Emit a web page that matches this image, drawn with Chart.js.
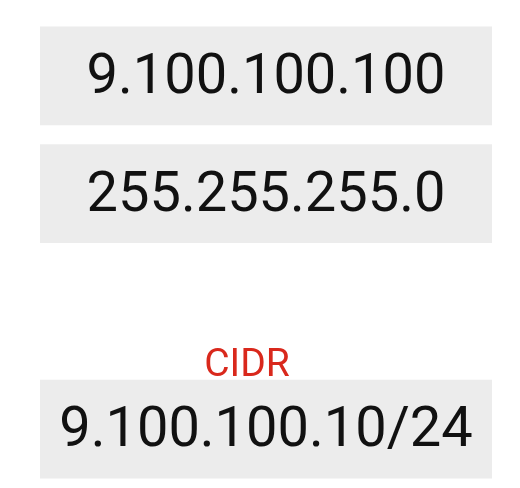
<!DOCTYPE html>
<html><head><meta charset="utf-8">
<script src="https://cdn.jsdelivr.net/npm/chart.js@4"></script>
<style>html,body{margin:0;padding:0;background:#fff}#w{width:520px;height:488px}</style>
</head><body><div id="w"><canvas id="c"></canvas></div>
<script>
const categories = ["9.100.100.100", "255.255.255.0", "", "9.100.100.10/24"];
const values = [1, 1, null, 1];
const captions = ["", "", "CIDR", ""];
const textPlugin = {
  id: 'txt',
  afterDatasetsDraw(chart) {
    const ctx = chart.ctx, meta = chart.getDatasetMeta(0), ys = chart.scales.y;
    ctx.save();
    ctx.textAlign = 'center'; ctx.textBaseline = 'middle';
    categories.forEach((c, i) => {
      const y = ys.getPixelForValue(i);
      if (values[i] != null) {
        const bar = meta.data[i];
        ctx.fillStyle = '#111';
        ctx.font = '56px Roboto';
        ctx.fillText(c, (bar.base + bar.x) / 2, y + 3);
      }
      if (captions[i]) {
        ctx.fillStyle = '#d9281c';
        ctx.font = '39px Roboto';
        ctx.fillText(captions[i], 247, y + 55);
      }
    });
    ctx.restore();
  }
};
new Chart(document.getElementById('c'), {
  type: 'bar',
  data: { labels: categories, datasets: [{ data: values, backgroundColor: '#ececec', barThickness: 98 }] },
  options: {
    indexAxis: 'y', responsive: true, maintainAspectRatio: false, animation: false,
    layout: { padding: { top: 17, bottom: -3, left: 40, right: 28 } },
    plugins: { legend: { display: false }, tooltip: { enabled: false } },
    scales: {
      x: { display: false, min: 0, max: 1 },
      y: { display: false }
    }
  },
  plugins: [textPlugin]
});
</script></body></html>
